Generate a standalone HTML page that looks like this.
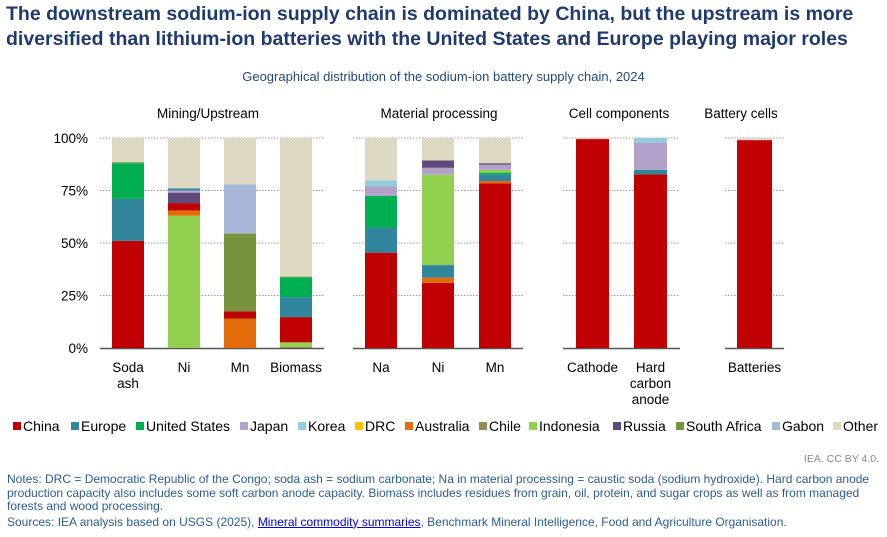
<!DOCTYPE html>
<html><head><meta charset="utf-8">
<style>
body{margin:0;width:887px;height:537px;background:#fff;font-family:"Liberation Sans",Arial,sans-serif;position:relative;overflow:hidden}
.t{position:absolute;white-space:nowrap}
#title{left:6px;top:2px;font-size:19.5px;font-weight:bold;color:#1f3b6e;line-height:25px}
#sub{left:0;width:887px;text-align:center;top:69px;font-size:13px;color:#1f497d}
#notes{left:7px;top:473px;font-size:12px;color:#2c5c97;line-height:13.5px}
#notes a{color:#0000ee}
#iea{right:8px;top:453px;font-size:10.5px;color:#888}
</style></head><body>
<div class="t" id="title">The downstream sodium-ion supply chain is dominated by China, but the upstream is more<br>diversified than lithium-ion batteries with the United States and Europe playing major roles</div>
<div class="t" id="sub">Geographical distribution of the sodium-ion battery supply chain, 2024</div>
<svg id="chart" width="887" height="440" style="position:absolute;left:0;top:0"></svg>
<div class="t" id="iea">IEA. CC BY 4.0.</div>
<div class="t" id="notes">Notes: DRC = Democratic Republic of the Congo; soda ash = sodium carbonate; Na in material processing = caustic soda (sodium hydroxide). Hard carbon anode<br>production capacity also includes some soft carbon anode capacity. Biomass includes residues from grain, oil, protein, and sugar crops as well as from managed<br>forests and wood processing.<br><span style="line-height:17px">Sources: IEA analysis based on USGS (2025), <a style="text-decoration:underline">Mineral commodity summaries</a>, Benchmark Mineral Intelligence, Food and Agriculture Organisation.</span></div>
<script>
const series=["China","Europe","United States","Japan","Korea","DRC","Australia","Chile","Indonesia","Russia","South Africa","Gabon","Other"];
const colors=["#c00000","#31859c","#00b050","#b3a2c7","#93cddd","#ffc000","#e46c0a","#948a54","#92d050","#604a7b","#77933c","#a6b6d6","#ddd9c3"];
const panels=["Mining/Upstream","Material processing","Cell components","Battery cells"];
const categories=[["Soda","ash"],["Ni"],["Mn"],["Biomass"],["Na"],["Ni"],["Mn"],["Cathode"],["Hard","carbon","anode"],["Batteries"]];
const stackOrder=[[8,0,1,2,10,12],[8,6,0,9,3,1,12],[6,0,10,11,12],[7,8,0,1,2,10,12],[0,1,2,3,4,12],[0,6,1,8,3,9,12],[0,6,1,2,8,3,9,12],[0,12],[0,1,3,4],[0,12]];
const values=[
 [0,51,20,17,0.5,11.5],
 [63,2.5,3.5,5,1,1,24],
 [14,3.5,37,23.5,22],
 [0.6,2.1,12,9.5,9.5,0.3,66],
 [45.4,12,15,4.5,3,20.1],
 [31,2.5,6,43,3.3,3.5,10.7],
 [78.4,1.1,3.2,0.8,1.3,2.5,0.7,12],
 [99.5,0.5],
 [82.7,2.1,13,2.2],
 [99,1]];
const yTicks=[0,25,50,75,100];
const yTickLabels=["0%","25%","50%","75%","100%"];
const svg=document.getElementById('chart');const NS="http://www.w3.org/2000/svg";
function mk(t,a){const e=document.createElementNS(NS,t);for(const k in a)e.setAttribute(k,a[k]);svg.appendChild(e);return e;}
const y0=348,y1=138;function Y(v){return y0-(y0-y1)*v/100;}
const panelX=[[100,324],[353,523],[563,680],[725,784]];
const panelTitleX=[208,439,619,741];
const barX=[128,184,240,296,381,438,495,592.5,650.5,754.5];
const barW=[32,32,32,32,32,32,32,33,33,35];
panelX.forEach((p,i)=>{
 yTicks.forEach(v=>{if(v>0){const l=mk('line',{x1:p[0],x2:p[1],y1:Y(v),y2:Y(v),stroke:'#999','stroke-dasharray':'1.5,1.5','stroke-width':1});}});
 const ax=mk('line',{x1:p[0],x2:p[1],y1:y0+0.5,y2:y0+0.5,stroke:'#555','stroke-width':1.5});
 
 const t=mk('text',{x:panelTitleX[i],y:118,'text-anchor':'middle','font-size':13.5,fill:'#000'});t.textContent=panels[i];
 
});
yTicks.forEach((v,i)=>{const t=mk('text',{x:88,y:Y(v)+5,'text-anchor':'end','font-size':13.5,fill:'#000'});t.textContent=yTickLabels[i];
 });
categories.forEach((c,i)=>{
 let acc=0;const cx=barX[i],w=barW[i];
 stackOrder[i].forEach((s,j)=>{const v=values[i][j];
  const r=mk('rect',{x:cx-w/2,y:Y(acc+v),width:w,height:Y(acc)-Y(acc+v),fill:colors[s]});
  
  acc+=v;});
 c.forEach((ln,k)=>{const t=mk('text',{x:cx,y:372+k*16,'text-anchor':'middle','font-size':13.5,fill:'#000'});t.textContent=ln;
  });
});
const legX=[13,71,136,240,298,355,405,479,529,613,676,772,833];
series.forEach((s,i)=>{
 const r=mk('rect',{x:legX[i],y:422,width:8,height:8,fill:colors[i]});
 
 const t=mk('text',{x:legX[i]+10,y:431,'font-size':14,fill:'#000'});t.textContent=s;
 
});
</script>
</body></html>
